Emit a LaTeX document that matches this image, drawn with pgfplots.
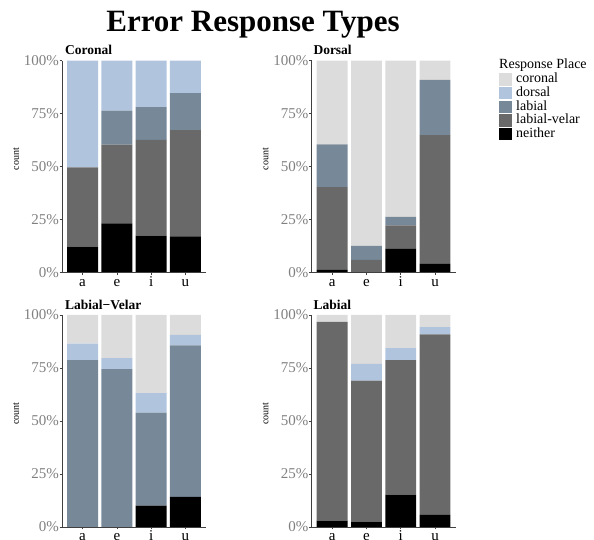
\documentclass[border=0pt]{standalone}
\usepackage{pgfplots}
\pgfplotsset{compat=1.18}
\usepackage{pgfplotstable}
\usepackage{fontspec}
\setmainfont{Liberation Serif}

\definecolor{ccor}{HTML}{DCDCDC}
\definecolor{cdor}{HTML}{B0C4DE}
\definecolor{clab}{HTML}{778899}
\definecolor{clv}{HTML}{696969}
\definecolor{cnei}{HTML}{000000}

% segment heights in percent, stacked bottom to top: neither, labial-velar, labial, dorsal, coronal
\pgfplotstableread{
x n    lv   lab  dor  cor
0 12.3 37.4 0    50.3 0
1 23.3 37.1 16.0 23.6 0
2 17.5 45.1 15.5 21.9 0
3 17.1 50.2 17.4 15.3 0
}\coronal
\pgfplotstableread{
x n    lv   lab  dor  cor
0 1.3  39.1 20.1 0    39.5
1 0    6.1  6.5  0    87.4
2 11.2 11.1 4.0  0    73.7
3 4.2  60.7 26.1 0    9.0
}\dorsal
\pgfplotstableread{
x n    lv   lab  dor  cor
0 0    0    78.7 7.8  13.5
1 0    0    74.5 5.2  20.3
2 10.1 0    43.9 9.1  36.9
3 14.2 0    71.5 4.9  9.4
}\labvel
\pgfplotstableread{
x n    lv   lab  dor  cor
0 3.0  93.7 0    0    3.3
1 2.5  66.6 0    7.8  23.1
2 15.3 63.4 0    5.7  15.6
3 5.7  85.2 0    3.4  5.7
}\labial

\pgfplotsset{
  panel/.style={
    scale only axis, width=144pt, height=212pt,
    anchor=south west,
    ybar stacked, bar width=0.9,
    xmin=-0.6, xmax=3.6, ymin=0, ymax=100,
    xtick={0,1,2,3}, xticklabels={a,e,i,u},
    ytick={0,25,50,75,100}, yticklabels={0\%,25\%,50\%,75\%,100\%},
    axis lines=left,
    axis line style={-, black!75, line width=0.6pt},
    tick style={black!75, line width=0.6pt},
    major tick length=2.5pt, tick align=outside,
    axis on top,
    x tick label style={font=\fontsize{15}{18}\selectfont, text=black, anchor=base, inner sep=0pt, yshift=-11.5pt},
    y tick label style={font=\fontsize{15}{18}\selectfont, text=black!50, anchor=east, inner sep=0pt, xshift=-0.5pt},
    ylabel={count},
    ylabel style={font=\fontsize{10}{11}\selectfont, at={(axis description cs:-0.319,0.536)}, anchor=center, rotate=0},
  },
  seg/.style={fill=#1, draw=none},
}

\begin{document}
\begin{tikzpicture}[x=1pt,y=1pt]
\useasboundingbox (0,0) rectangle (594,540);

\node[anchor=base, inner sep=0pt, font=\bfseries\fontsize{31}{36}\selectfont] at (253,508.3) {Error Response Types};

% Coronal
\begin{axis}[panel, at={(62pt,267.3pt)}]
\addplot[seg=cnei] table[x=x,y=n]{\coronal};
\addplot[seg=clv] table[x=x,y=lv]{\coronal};
\addplot[seg=clab] table[x=x,y=lab]{\coronal};
\addplot[seg=cdor] table[x=x,y=dor]{\coronal};
\addplot[seg=ccor] table[x=x,y=cor]{\coronal};
\end{axis}

% Dorsal, with the legend
\begin{axis}[panel, at={(311.6pt,267.3pt)},
  reverse legend,
  legend style={at={(axis description cs:1.301,0.9406)}, anchor=north west,
    draw=none, fill=none, inner sep=0pt, row sep=1.2pt,
    font=\fontsize{14}{16}\selectfont,
    nodes={inner xsep=4.5pt, inner ysep=0pt, text height=9pt, text depth=2.6pt}},
  legend cell align=left,
  legend image code/.code={\fill[#1] (0pt,-6.2pt) rectangle (12.5pt,6.2pt);},
]
\addplot[seg=cnei] table[x=x,y=n]{\dorsal};
\addlegendentry{neither}
\addplot[seg=clv] table[x=x,y=lv]{\dorsal};
\addlegendentry{labial-velar}
\addplot[seg=clab] table[x=x,y=lab]{\dorsal};
\addlegendentry{labial}
\addplot[seg=cdor] table[x=x,y=dor]{\dorsal};
\addlegendentry{dorsal}
\addplot[seg=ccor] table[x=x,y=cor]{\dorsal};
\addlegendentry{coronal}
\end{axis}

% Labial-Velar
\begin{axis}[panel, at={(62pt,13pt)}]
\addplot[seg=cnei] table[x=x,y=n]{\labvel};
\addplot[seg=clv] table[x=x,y=lv]{\labvel};
\addplot[seg=clab] table[x=x,y=lab]{\labvel};
\addplot[seg=cdor] table[x=x,y=dor]{\labvel};
\addplot[seg=ccor] table[x=x,y=cor]{\labvel};
\end{axis}

% Labial
\begin{axis}[panel, at={(311.6pt,13pt)}]
\addplot[seg=cnei] table[x=x,y=n]{\labial};
\addplot[seg=clv] table[x=x,y=lv]{\labial};
\addplot[seg=clab] table[x=x,y=lab]{\labial};
\addplot[seg=cdor] table[x=x,y=dor]{\labial};
\addplot[seg=ccor] table[x=x,y=cor]{\labial};
\end{axis}

% panel titles
\begin{scope}[every node/.style={anchor=base west, inner sep=0pt, font=\bfseries\fontsize{13.5}{16}\selectfont}]
\node at (65,485) {Coronal};
\node at (313.3,485) {Dorsal};
\node at (65,230) {Labial−Velar};
\node at (313.3,230) {Labial};
\end{scope}

\node[anchor=base west, inner sep=0pt, font=\fontsize{14}{16}\selectfont] at (499,471.7) {Response Place};
\end{tikzpicture}
\end{document}
